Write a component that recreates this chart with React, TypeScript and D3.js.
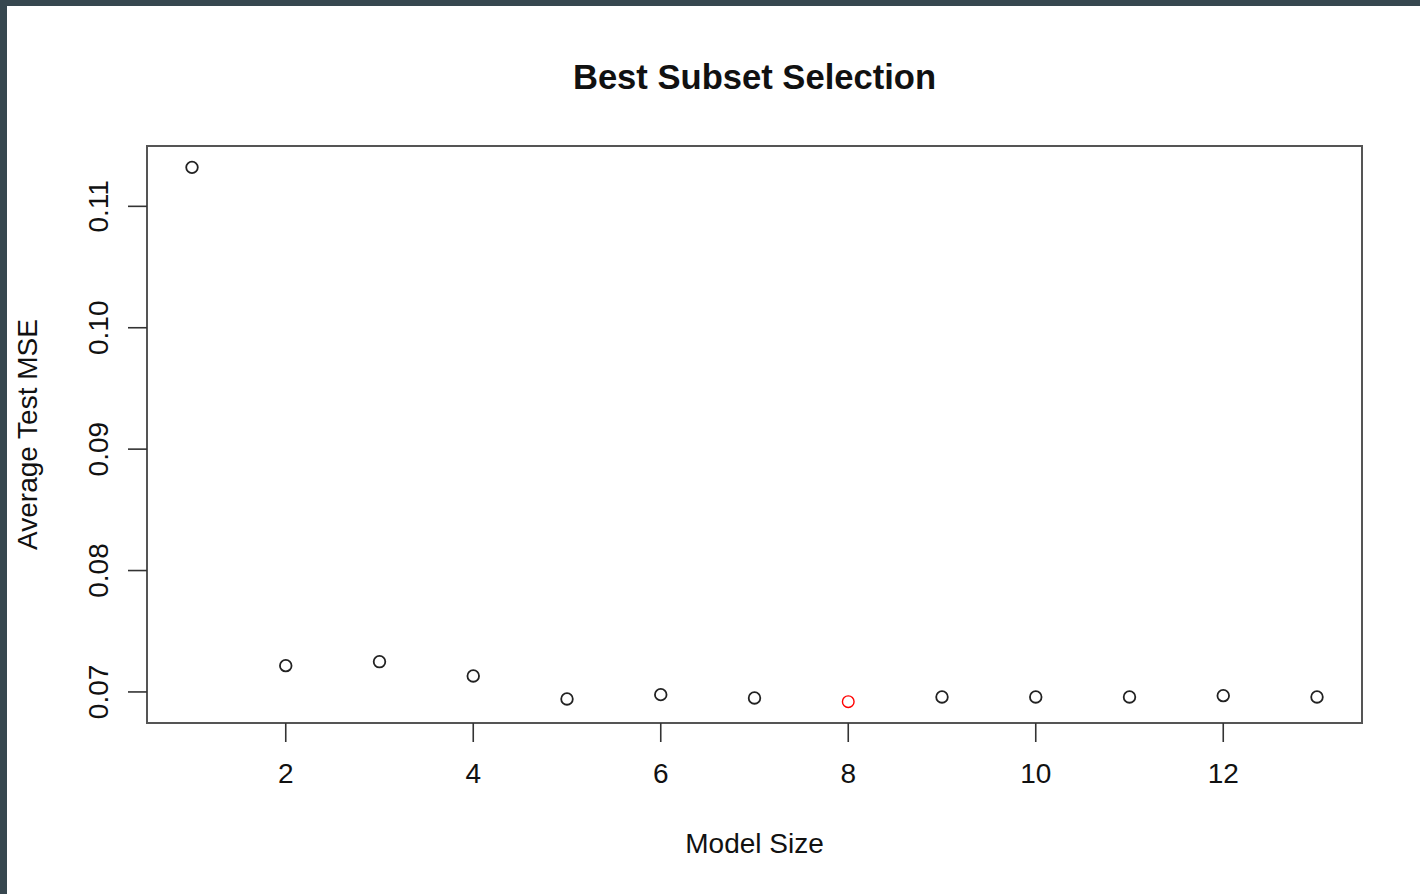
import React from "react";
import * as d3 from "d3";

// Average test MSE by number of predictors in the model
const modelSizes = [1, 2, 3, 4, 5, 6, 7, 8, 9, 10, 11, 12, 13];
const avgTestMSE = [
  0.11321, 0.072165, 0.072494, 0.071317, 0.069424, 0.069778, 0.069506,
  0.069202, 0.069588, 0.069588, 0.069588, 0.069695, 0.069588,
];
const xTicks = [2, 4, 6, 8, 10, 12];
const yTicks = [0.07, 0.08, 0.09, 0.1, 0.11];
const titleText = "Best Subset Selection";
const xLabel = "Model Size";
const yLabel = "Average Test MSE";

const W = 1420;
const H = 894;
const plot = { left: 147, right: 1362, top: 146, bottom: 723 };
const font = "'Liberation Sans', Arial, Helvetica, sans-serif";

// R-style axis range: data extent padded by 4% on each side
function padExtent(vals: number[]): [number, number] {
  const [lo, hi] = d3.extent(vals) as [number, number];
  const d = (hi - lo) * 0.04;
  return [lo - d, hi + d];
}

export default function App() {
  const x = d3.scaleLinear().domain(padExtent(modelSizes)).range([plot.left, plot.right]);
  const y = d3.scaleLinear().domain(padExtent(avgTestMSE)).range([plot.bottom, plot.top]);
  const bestIdx = d3.minIndex(avgTestMSE);
  const axisColor = "#333";

  return (
    <div style={{ position: "absolute", left: 0, top: 0, width: W, height: H }}>
      <svg width={W} height={H} style={{ display: "block" }}>
        <rect x={0} y={0} width={W} height={H} fill="#ffffff" />
        {/* frame around the page */}
        <rect x={0} y={0} width={W} height={6} fill="#37474f" />
        <rect x={0} y={0} width={7} height={H} fill="#37474f" />

        <text
          x={(plot.left + plot.right) / 2}
          y={89}
          textAnchor="middle"
          fontFamily={font}
          fontWeight="bold"
          fontSize={34.6}
          fill="#111"
        >
          {titleText}
        </text>

        {/* plot box */}
        <rect
          x={plot.left}
          y={plot.top}
          width={plot.right - plot.left}
          height={plot.bottom - plot.top}
          fill="none"
          stroke="#555"
          strokeWidth={2}
        />

        {/* x axis */}
        {xTicks.map((t) => (
          <g key={`xt${t}`}>
            <line x1={x(t)} x2={x(t)} y1={plot.bottom} y2={plot.bottom + 19} stroke={axisColor} strokeWidth={1.6} />
            <text x={x(t)} y={783} textAnchor="middle" fontFamily={font} fontSize={28} fill="#111">
              {t}
            </text>
          </g>
        ))}

        {/* y axis */}
        {yTicks.map((t) => (
          <g key={`yt${t}`}>
            <line x1={plot.left - 19} x2={plot.left} y1={y(t)} y2={y(t)} stroke={axisColor} strokeWidth={1.6} />
            <text
              transform={`translate(108,${y(t)}) rotate(-90)`}
              textAnchor="middle"
              fontFamily={font}
              fontSize={28}
              fill="#111"
            >
              {t.toFixed(2)}
            </text>
          </g>
        ))}

        <text x={(plot.left + plot.right) / 2} y={853} textAnchor="middle" fontFamily={font} fontSize={28} fill="#111">
          {xLabel}
        </text>
        <text
          transform={`translate(37,${(plot.top + plot.bottom) / 2}) rotate(-90)`}
          textAnchor="middle"
          fontFamily={font}
          fontSize={28}
          fill="#111"
        >
          {yLabel}
        </text>

        {/* points */}
        {modelSizes.map((m, i) => (
          <circle
            key={`p${m}`}
            cx={x(m)}
            cy={y(avgTestMSE[i])}
            r={5.8}
            fill="none"
            stroke={i === bestIdx ? "#ff0000" : "#222"}
            strokeWidth={i === bestIdx ? 1.4 : 1.8}
          />
        ))}
      </svg>
    </div>
  );
}
